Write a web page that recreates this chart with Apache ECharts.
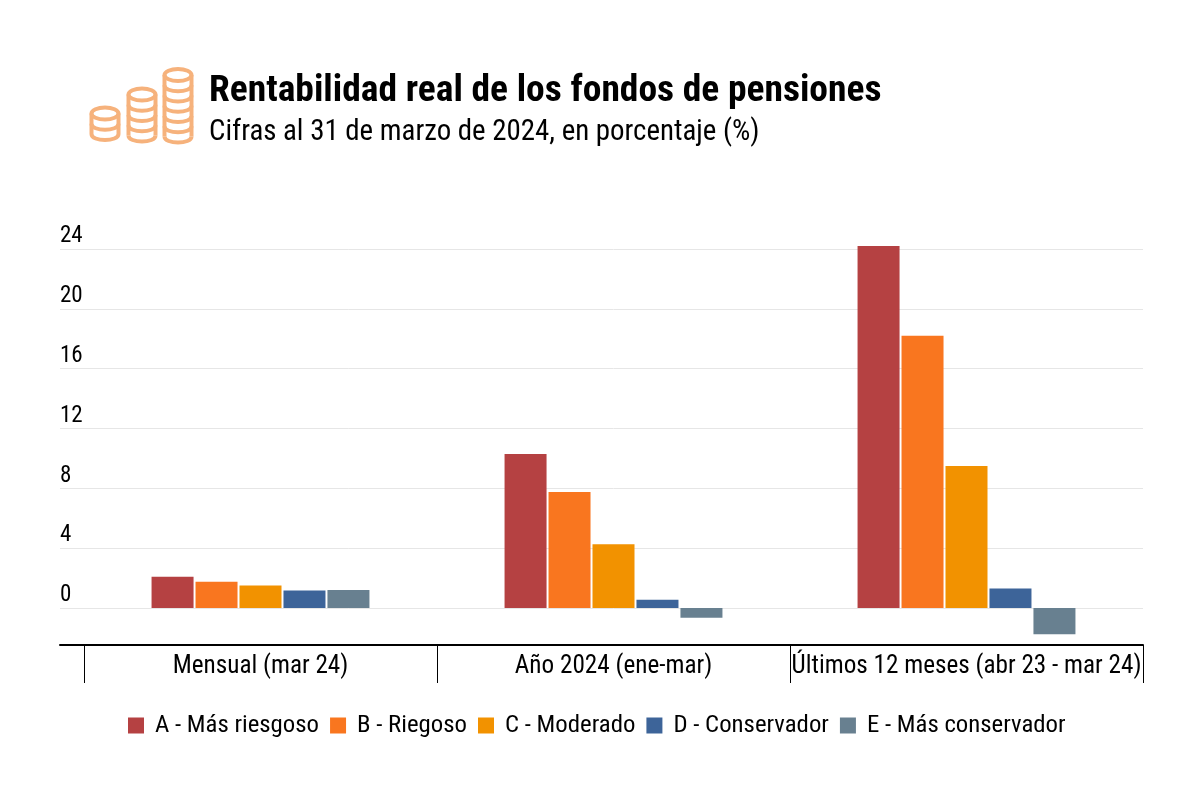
<!DOCTYPE html><html><head><meta charset="utf-8"><style>html,body{margin:0;background:#fff}#c{width:1200px;height:800px}</style>
<script src="https://cdn.jsdelivr.net/npm/echarts@6/dist/echarts.min.js"></script></head><body><div id="c"></div><script>
const titleText='Rentabilidad real de los fondos de pensiones';
const subtitleText='Cifras al 31 de marzo de 2024, en porcentaje (%)';
const categories=['Mensual (mar 24)','Año 2024 (ene-mar)','Últimos 12 meses (abr 23 - mar 24)'];
const serieA=[2.1,10.3,24.2];
const serieB=[1.75,7.75,18.2];
const serieC=[1.5,4.27,9.5];
const serieD=[1.18,0.55,1.3];
const serieE=[1.2,-0.65,-1.75];
const seriesNames=['A - Más riesgoso','B - Riegoso','C - Moderado','D - Conservador','E - Más conservador'];
const colors=['#b54142','#f9761f','#f29200','#3d6499','#688090'];
const yTicks=[0,4,8,12,16,20,24];
const font='"Roboto Condensed","Roboto",sans-serif';
const allSeries=[serieA,serieB,serieC,serieD,serieE];
function coin(cx,cy,n){const rx=13.5,ry=6,step=10.25,st={fill:'none',stroke:'#f6b27c',lineWidth:4};
 const out=[{type:'ellipse',shape:{cx,cy,rx,ry},style:st,silent:true}];
 const end=cy+n*step;
 out.push({type:'line',shape:{x1:cx-rx,y1:cy,x2:cx-rx,y2:end},style:st,silent:true});
 out.push({type:'line',shape:{x1:cx+rx,y1:cy,x2:cx+rx,y2:end},style:st,silent:true});
 for(let i=1;i<=n;i++){const y=cy+i*step;out.push({type:'bezierCurve',shape:{x1:cx-rx,y1:y,x2:cx+rx,y2:y,cpx1:cx-rx,cpy1:y+ry*4/3,cpx2:cx+rx,cpy2:y+ry*4/3},style:st,silent:true});}
 return out;}
const yMin=-2.47,yMax=24.4,gridTop=243,gridH=402;
const chart=echarts.init(document.getElementById('c'),null,{renderer:'canvas'});
chart.setOption({
 animation:false,backgroundColor:'#fff',color:colors,
 title:{left:204,top:66,text:titleText,subtext:subtitleText,itemGap:4,
  textStyle:{fontFamily:font,fontWeight:700,fontSize:37.5,color:'#000',lineHeight:42},
  subtextStyle:{fontFamily:font,fontSize:28.9,color:'#000',lineHeight:32}},
 graphic:{elements:[...coin(105,113.5,2),...coin(142,94.5,4),...coin(178,75,6)]},
 legend:{left:128,top:713,padding:0,itemWidth:16,itemHeight:16,itemGap:11,icon:'rect',
  textStyle:{fontFamily:font,fontSize:24.8,color:'#000',padding:[0,0,0,6]},data:seriesNames},
 grid:[{left:84,width:1059,top:gridTop,height:gridH},{left:60,width:24,top:gridTop,height:gridH}],
 xAxis:[
  {gridIndex:0,type:'category',data:categories,axisLine:{onZero:false,lineStyle:{color:'#000',width:2}},
   axisTick:{show:true,alignWithLabel:false,length:38,lineStyle:{color:'#000',width:1}},
   axisLabel:{interval:0,margin:9,fontFamily:font,fontSize:25.2,color:'#000',hideOverlap:false}},
  {gridIndex:1,type:'category',data:[''],axisLine:{onZero:false,lineStyle:{color:'#000',width:2}},axisTick:{show:false},axisLabel:{show:false}}
 ],
 yAxis:[
  {gridIndex:0,type:'value',min:yMin,max:yMax,axisLine:{show:false},axisLabel:{show:false,customValues:yTicks},axisTick:{show:false,customValues:yTicks},splitLine:{lineStyle:{color:'#e6e6e6',width:1}}},
  {gridIndex:1,type:'value',min:yMin,max:yMax,axisLine:{show:false},axisTick:{show:false,customValues:yTicks},splitLine:{lineStyle:{color:'#e6e6e6',width:1}},
   axisLabel:{customValues:yTicks,inside:true,margin:0,align:'left',verticalAlign:'bottom',padding:[0,0,1,0],fontFamily:font,fontSize:23,color:'#000'}}
 ],
 series:seriesNames.map((n,i)=>({name:n,type:'bar',data:allSeries[i],barWidth:42,barGap:'4.7%',xAxisIndex:0,yAxisIndex:0,itemStyle:{color:colors[i]}}))
});
</script></body></html>
